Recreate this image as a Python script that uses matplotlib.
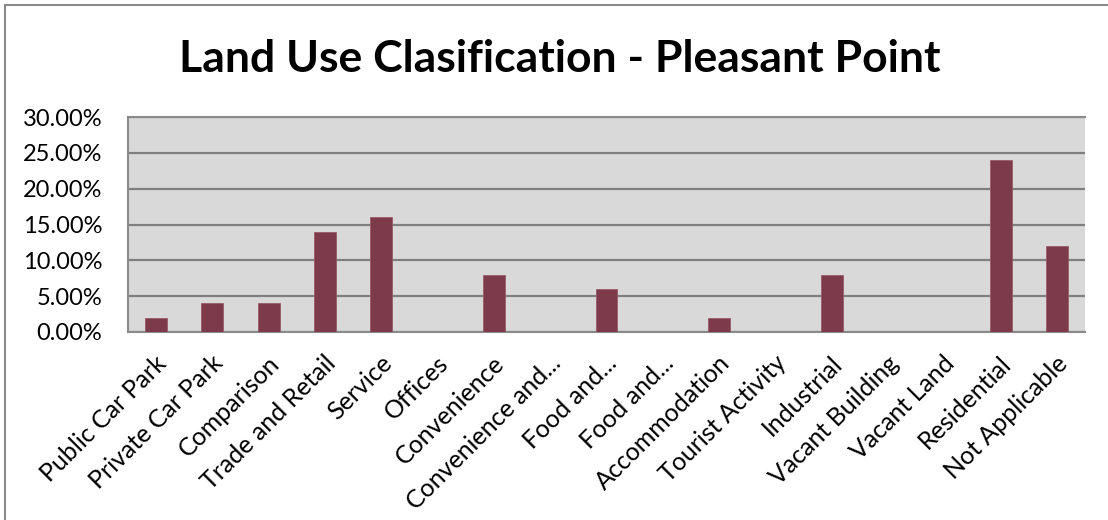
import matplotlib
matplotlib.use("Agg")
import matplotlib.pyplot as plt
from matplotlib.lines import Line2D
from matplotlib.ticker import FuncFormatter, MultipleLocator
from matplotlib.transforms import ScaledTranslation

categories = [
    "Public Car Park", "Private Car Park", "Comparison", "Trade and Retail",
    "Service", "Offices", "Convenience", "Convenience and...", "Food and...",
    "Food and...", "Accommodation", "Tourist Activity", "Industrial",
    "Vacant Building", "Vacant Land", "Residential", "Not Applicable",
]
shares = [2, 4, 4, 14, 16, 0, 8, 0, 6, 0, 2, 0, 8, 0, 0, 24, 12]
title_text = "Land Use Clasification - Pleasant Point"

plt.rcParams["font.family"] = ["Lato", "DejaVu Sans"]

W, H = 1108, 520
fig = plt.figure(figsize=(W / 100, H / 100), dpi=100)

# outer chart frame (left and top edges visible)
frame_color = "#8a8a8a"
fig.add_artist(Line2D([5 / W, 5 / W], [0, 1 - 5 / H], transform=fig.transFigure,
                      color=frame_color, lw=1.5))
fig.add_artist(Line2D([5 / W, 1], [1 - 5 / H, 1 - 5 / H], transform=fig.transFigure,
                      color=frame_color, lw=1.5))

left, right, top, bottom = 128, 1085, 117, 332
ax = fig.add_axes([left / W, 1 - bottom / H, (right - left) / W, (bottom - top) / H])
ax.set_facecolor("#d9d9d9")

x = list(range(len(categories)))
ax.bar(x, shares, width=0.39, color="#7d3a4a", edgecolor="#9a5a68", linewidth=0.6,
       zorder=3)

ax.set_xlim(-0.5, len(categories) - 0.5)
ax.set_ylim(0, 30)
ax.yaxis.set_major_locator(MultipleLocator(5))
ax.yaxis.set_major_formatter(FuncFormatter(lambda v, p: f"{v:.2f}%"))
ax.grid(axis="y", color="#7f7f7f", linewidth=1.6, zorder=1)
ax.set_axisbelow(True)

ax.spines["right"].set_visible(False)
for side in ("left", "top", "bottom"):
    ax.spines[side].set_color("#8a8a8a")
    ax.spines[side].set_linewidth(1.5)

ax.tick_params(axis="y", length=0, pad=18.5, labelsize=17, labelcolor="black")
ax.tick_params(axis="x", length=0, pad=14, labelsize=18, labelcolor="black")
ax.set_xticks(x)
ax.set_xticklabels(categories, rotation=45, ha="right", va="top",
                   rotation_mode="anchor")
shift = ScaledTranslation(-1 / 72, 0, fig.dpi_scale_trans)
for lbl in ax.get_xticklabels():
    lbl.set_transform(lbl.get_transform() + shift)

fig.text(560 / W, 1 - 72 / H, title_text, ha="center", va="baseline",
         fontsize=32, fontweight="bold")

fig.savefig("out.png", dpi=100)
